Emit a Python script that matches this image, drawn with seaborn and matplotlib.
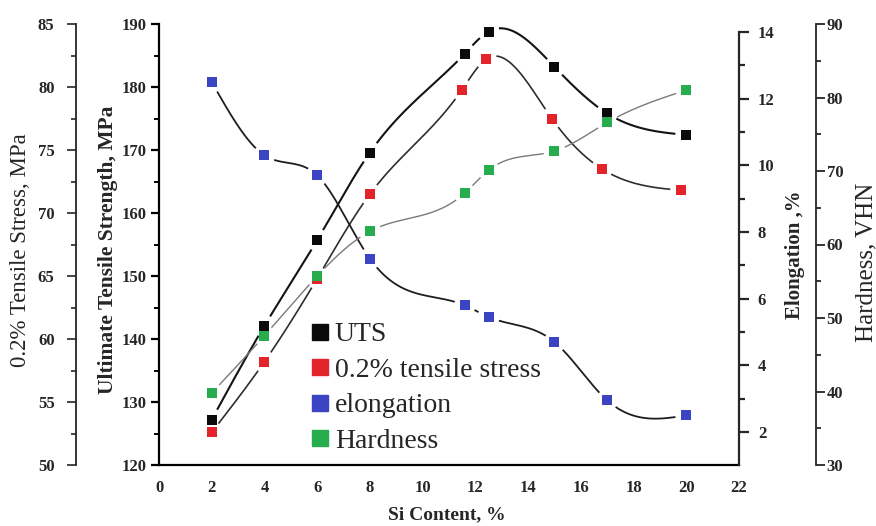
import numpy as np
import matplotlib
matplotlib.use("Agg")
import matplotlib.pyplot as plt
from matplotlib.lines import Line2D
from matplotlib.ticker import MultipleLocator
import seaborn as sns

# Si content (%) and measured properties
si = [2, 4, 6, 8, 11.6, 12.5, 15, 17, 20]
si_ys = [2, 4, 6, 8, 11.5, 12.4, 14.9, 16.8, 19.8]
uts = [127.2, 142.1, 155.7, 169.6, 185.3, 188.8, 183.2, 175.8, 172.4]
ys02 = [52.6, 58.2, 64.8, 71.5, 79.8, 82.2, 77.5, 73.5, 71.8]
elong = [12.5, 10.3, 9.7, 7.2, 5.8, 5.45, 4.7, 2.95, 2.5]
hard = [39.8, 47.6, 55.7, 61.8, 67.0, 70.1, 72.7, 76.6, 81.0]

labels = ["UTS", "0.2% tensile stress", "elongation", "Hardness"]
colors = ["#0b0b0b", "#e3242b", "#3b45c4", "#27ad4e"]

sns.set_style("white")
plt.rcParams["font.family"] = ["Liberation Serif", "DejaVu Serif"]
plt.rcParams["mathtext.fontset"] = "stix"

W, H = 876, 526
fig = plt.figure(figsize=(W / 100, H / 100), dpi=100)
ax = fig.add_axes([159 / W, 1 - 465 / H, 580 / W, 441 / H])
ax_s = ax.twinx()
ax_e = ax.twinx()
ax_h = ax.twinx()

ax.set_xlim(0, 22)
ax.set_ylim(120, 190)
ax_s.set_ylim(50, 85)
ax_e.set_ylim(1.01, 14.24)
ax_h.set_ylim(30, 90)

spine_w = 1.6

# main axes: x and UTS
for side in ["top", "right"]:
    ax.spines[side].set_visible(False)
for side in ["left", "bottom"]:
    ax.spines[side].set_linewidth(spine_w)
    ax.spines[side].set_color("black")
ax.xaxis.set_major_locator(MultipleLocator(2))
ax.xaxis.set_minor_locator(MultipleLocator(1))
ax.yaxis.set_major_locator(MultipleLocator(10))
ax.yaxis.set_minor_locator(MultipleLocator(5))
ax.tick_params(axis="both", which="major", direction="out", length=6, width=1.6,
               color="black", labelsize=12, pad=3)
ax.tick_params(axis="both", which="minor", direction="out", length=3.5, width=1.4, color="black")
ax.tick_params(axis="x", which="major", pad=5)
for lab in ax.get_xticklabels() + ax.get_yticklabels():
    lab.set_fontweight("bold")

# 0.2% tensile stress axis on the far left
for side in ["top", "right", "bottom"]:
    ax_s.spines[side].set_visible(False)
ax_s.spines["left"].set_visible(True)
ax_s.spines["left"].set_position(("axes", -0.143))
ax_s.spines["left"].set_linewidth(1.3)
ax_s.yaxis.set_ticks_position("left")
ax_s.yaxis.set_major_locator(MultipleLocator(5))
ax_s.yaxis.set_minor_locator(MultipleLocator(2.5))
ax_s.tick_params(axis="y", which="major", direction="out", length=6.5, width=1.2, labelsize=12, pad=9)
ax_s.tick_params(axis="y", which="minor", direction="out", length=3.5, width=1.2)
for lab in ax_s.get_yticklabels():
    lab.set_fontweight("bold")

# elongation axis on the right frame
for side in ["top", "left", "bottom"]:
    ax_e.spines[side].set_visible(False)
ax_e.spines["right"].set_linewidth(spine_w)
ax_e.spines["right"].set_bounds(1.01, 14)
ax_e.yaxis.set_major_locator(MultipleLocator(2))
ax_e.yaxis.set_minor_locator(MultipleLocator(1))
ax_e.tick_params(axis="y", which="major", direction="out", length=7.5, width=1.6, labelsize=12, pad=6)
ax_e.tick_params(axis="y", which="minor", direction="out", length=4, width=1.6)
for lab in ax_e.get_yticklabels():
    lab.set_fontweight("bold")

# hardness axis, offset to the right
for side in ["top", "left", "bottom"]:
    ax_h.spines[side].set_visible(False)
ax_h.spines["right"].set_position(("axes", 1.133))
ax_h.spines["right"].set_linewidth(1.3)
ax_h.yaxis.set_major_locator(MultipleLocator(10))
ax_h.yaxis.set_minor_locator(MultipleLocator(5))
ax_h.tick_params(axis="y", which="major", direction="out", length=6.5, width=1.3, labelsize=12, pad=1)
ax_h.tick_params(axis="y", which="minor", direction="out", length=3.5, width=1.3)
for lab in ax_h.get_yticklabels():
    lab.set_fontweight("bold")


def natural_spline(x, y, n=700):
    x = np.asarray(x, float)
    y = np.asarray(y, float)
    k = len(x)
    h = np.diff(x)
    A = np.zeros((k, k))
    b = np.zeros(k)
    A[0, 0] = A[-1, -1] = 1
    for i in range(1, k - 1):
        A[i, i - 1] = h[i - 1]
        A[i, i] = 2 * (h[i - 1] + h[i])
        A[i, i + 1] = h[i]
        b[i] = 6 * ((y[i + 1] - y[i]) / h[i] - (y[i] - y[i - 1]) / h[i - 1])
    M = np.linalg.solve(A, b)
    xs = np.linspace(x[0], x[-1], n)
    idx = np.clip(np.searchsorted(x, xs) - 1, 0, k - 2)
    x0, x1 = x[idx], x[idx + 1]
    hh = x1 - x0
    t0, t1 = x1 - xs, xs - x0
    ys = ((M[idx] * t0 ** 3 + M[idx + 1] * t1 ** 3) / (6 * hh)
          + (y[idx] / hh - M[idx] * hh / 6) * t0
          + (y[idx + 1] / hh - M[idx + 1] * hh / 6) * t1)
    return xs, ys


def draw_series(axis, x, y, color, line_color, lw, gap=10.5):
    xs, ys = natural_spline(x, y)
    pts = axis.transData.transform(np.column_stack([xs, ys]))
    mk = axis.transData.transform(np.column_stack([x, y]))
    d = np.min(np.hypot(pts[:, None, 0] - mk[None, :, 0],
                        pts[:, None, 1] - mk[None, :, 1]), axis=1)
    axis.plot(xs, np.where(d < gap, np.nan, ys), color=line_color, lw=lw,
              solid_capstyle="butt", zorder=3)
    sns.scatterplot(x=x, y=y, ax=axis, marker="s", s=62, color=color,
                    linewidth=0, zorder=5, legend=False)


draw_series(ax, si, uts, colors[0], "#141414", 1.5)
draw_series(ax_s, si_ys, ys02, colors[1], "#2e2e2e", 1.2)
draw_series(ax_e, si, elong, colors[2], "#1e1e1e", 1.3)
draw_series(ax_h, si, hard, colors[3], "#7a7a7a", 1.0)

# axis titles
fig.text(21 / W, 1 - 250 / H, "0.2% Tensile Stress, MPa", rotation=90,
         ha="center", va="center", fontsize=16.5)
fig.text(108 / W, 1 - 250 / H, "Ultimate Tensile Strength, MPa", rotation=90,
         ha="center", va="center", fontsize=15.5, fontweight="bold")
fig.text(795 / W, 1 - 255 / H, "Elongation ,%", rotation=90,
         ha="center", va="center", fontsize=15, fontweight="bold")
fig.text(866 / W, 1 - 262 / H, "Hardness, VHN", rotation=90,
         ha="center", va="center", fontsize=18)
fig.text(447 / W, 1 - 515 / H, "Si Content, %", ha="center", va="center",
         fontsize=14, fontweight="bold")

handles = [Line2D([], [], marker="s", color=c, linestyle="none", markersize=12)
           for c in colors]
fig.legend(handles, labels, loc="upper left", bbox_to_anchor=(312 / W, 1 - 322 / H),
           frameon=False, fontsize=20, handlelength=0.6, handletextpad=0.22,
           labelspacing=0.36, borderpad=0, borderaxespad=0)

fig.savefig("out.png", dpi=100)
